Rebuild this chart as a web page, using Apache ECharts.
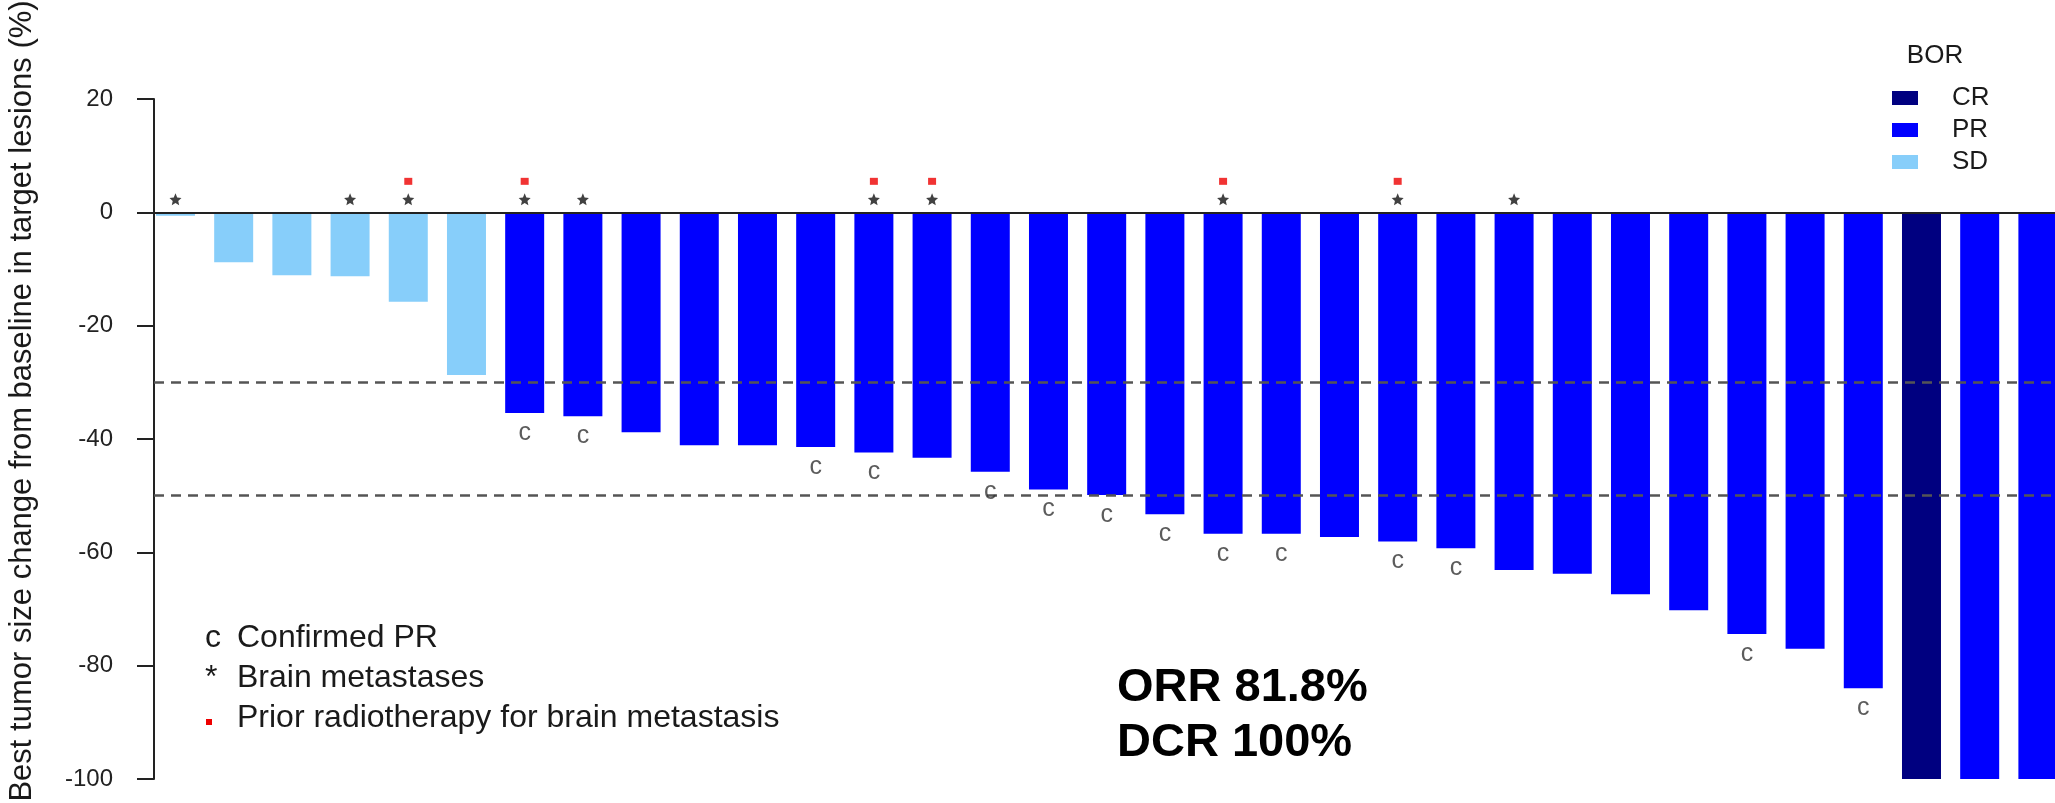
<!DOCTYPE html>
<html>
<head>
<meta charset="utf-8">
<script src="https://cdn.jsdelivr.net/npm/echarts@6/dist/echarts.min.js"></script>
<style>
  html, body { margin: 0; padding: 0; background: #ffffff; }
  #chart { width: 2055px; height: 803px; }
</style>
</head>
<body>
<div id="chart"></div>
<script>
// Best percent change from baseline in target lesions, one value per patient, sorted
const bestChange = [
  -0.6, -8.8, -11.1, -11.3, -15.8, -28.7,
  -35.4, -36.0, -38.8, -41.1, -41.1, -41.4, -42.4, -43.3, -45.8, -48.9,
  -49.9, -53.3, -56.7, -56.7, -57.3, -58.1, -59.3, -63.1, -63.8, -67.4,
  -70.2, -74.4, -77.0, -84.0,
  -100, -100, -100
];
// Best overall response for each patient (same order)
const bestResponse = [
  'SD', 'SD', 'SD', 'SD', 'SD', 'SD',
  'PR', 'PR', 'PR', 'PR', 'PR', 'PR', 'PR', 'PR', 'PR', 'PR',
  'PR', 'PR', 'PR', 'PR', 'PR', 'PR', 'PR', 'PR', 'PR', 'PR',
  'PR', 'PR', 'PR', 'PR',
  'CR', 'PR', 'PR'
];
// Patient positions (1-based) carrying each annotation
const brainMetastases = [1, 4, 5, 7, 8, 13, 14, 19, 22, 24];
const priorRadiotherapy = [5, 7, 13, 14, 19, 22];
const confirmedPR = [7, 8, 12, 13, 15, 16, 17, 18, 19, 20, 22, 23, 28, 30];

const responseLevels = ['CR', 'PR', 'SD'];
const responseColors = { CR: '#000080', PR: '#0000FF', SD: '#87CEFA' };
const thresholds = [-30, -50];
const yMin = -100, yMax = 20, yStep = 20;

const FONT = '"Liberation Sans", Arial, sans-serif';
const INK = '#1a1a1a';

// five-pointed star outline for the brain metastasis marker
function starPath(inner) {
  const pts = [];
  for (let k = 0; k < 10; k++) {
    const r = k % 2 === 0 ? 1 : inner;
    const a = -Math.PI / 2 + k * Math.PI / 5;
    pts.push((r * Math.cos(a)).toFixed(4) + ' ' + (r * Math.sin(a)).toFixed(4));
  }
  return 'path://M' + pts.join(' L') + ' Z';
}

const barSeries = responseLevels.map(level => ({
  name: level,
  type: 'bar',
  barWidth: 39,
  barGap: '-100%',
  itemStyle: { color: responseColors[level] },
  data: bestChange
    .map((v, i) => (bestResponse[i] === level ? [i, v] : null))
    .filter(d => d !== null),
  z: 2
}));

// reference lines: zero baseline and the -30 / -50 thresholds
barSeries[0].markLine = {
  silent: true,
  symbol: 'none',
  label: { show: false },
  z: 5,
  data: [
    { yAxis: 0, lineStyle: { color: '#222222', width: 2, type: 'solid' } }
  ].concat(thresholds.map(t => ({
    yAxis: t,
    lineStyle: { color: '#555555', width: 2.5, type: [10, 7] }
  })))
};

const markerSeries = [
  {
    name: 'brain',
    type: 'scatter',
    symbol: starPath(0.46),
    symbolSize: 12,
    symbolOffset: [0, -13],
    itemStyle: { color: '#111111' },
    data: brainMetastases.map(p => [p - 1, 0]),
    z: 6
  },
  {
    name: 'radiotherapy',
    type: 'scatter',
    symbol: 'rect',
    symbolSize: [8, 7],
    symbolOffset: [0, -31],
    itemStyle: { color: '#ee0000' },
    data: priorRadiotherapy.map(p => [p - 1, 0]),
    z: 6
  },
  {
    name: 'confirmed',
    type: 'scatter',
    symbolSize: 1,
    itemStyle: { color: 'rgba(0,0,0,0)' },
    label: {
      show: true,
      position: 'inside',
      offset: [0, 20],
      formatter: 'c',
      color: '#333333',
      fontFamily: FONT,
      fontSize: 25
    },
    data: confirmedPR.map(p => [p - 1, bestChange[p - 1]]),
    z: 6
  }
];

const chart = echarts.init(document.getElementById('chart'), null, { renderer: 'canvas' });

chart.setOption({
  animation: false,
  backgroundColor: '#ffffff',
  textStyle: { fontFamily: FONT },
  grid: { left: 154, right: 0, top: 99, bottom: 24, outerBoundsMode: 'none', containLabel: false },
  xAxis: {
    type: 'value',
    min: -0.369,
    max: 32.294,
    show: false
  },
  yAxis: {
    type: 'value',
    min: yMin,
    max: yMax,
    interval: yStep,
    axisLine: { show: true, onZero: false, lineStyle: { color: '#222222', width: 2 } },
    axisTick: { show: true, length: 17, lineStyle: { color: '#222222', width: 2 } },
    axisLabel: { color: '#222222', fontSize: 24, fontFamily: FONT, margin: 41 },
    splitLine: { show: false }
  },
  legend: {
    orient: 'vertical',
    left: 1887,
    top: 80,
    icon: 'rect',
    itemWidth: 26,
    itemHeight: 14,
    itemGap: 6,
    selectedMode: false,
    data: responseLevels,
    textStyle: { color: INK, fontSize: 26, fontFamily: FONT, padding: [0, 0, 0, 29] }
  },
  graphic: [
    {
      type: 'text', x: 22, y: 401, rotation: Math.PI / 2,
      style: {
        text: 'Best tumor size change from baseline in target lesions (%)',
        fontFamily: FONT, fontSize: 31, fill: INK, align: 'center', verticalAlign: 'middle'
      }
    },
    {
      type: 'text', x: 1935, y: 56,
      style: { text: 'BOR', fontFamily: FONT, fontSize: 26, fill: INK, align: 'center', verticalAlign: 'middle' }
    },
    {
      type: 'text', x: 205, y: 638,
      style: { text: 'c', fontFamily: FONT, fontSize: 32, fill: INK, align: 'left', verticalAlign: 'middle' }
    },
    {
      type: 'text', x: 237, y: 638,
      style: { text: 'Confirmed PR', fontFamily: FONT, fontSize: 32, fill: INK, align: 'left', verticalAlign: 'middle' }
    },
    {
      type: 'text', x: 205, y: 678,
      style: { text: '*', fontFamily: FONT, fontSize: 32, fill: INK, align: 'left', verticalAlign: 'middle' }
    },
    {
      type: 'text', x: 237, y: 678,
      style: { text: 'Brain metastases', fontFamily: FONT, fontSize: 32, fill: INK, align: 'left', verticalAlign: 'middle' }
    },
    {
      type: 'rect', shape: { x: 206, y: 719, width: 6, height: 6 },
      style: { fill: '#ee0000' }
    },
    {
      type: 'text', x: 237, y: 718,
      style: { text: 'Prior radiotherapy for brain metastasis', fontFamily: FONT, fontSize: 32, fill: INK, align: 'left', verticalAlign: 'middle' }
    },
    {
      type: 'text', x: 1117, y: 688,
      style: { text: 'ORR 81.8%', fontFamily: FONT, fontSize: 47, fontWeight: 'bold', fill: '#000000', align: 'left', verticalAlign: 'middle' }
    },
    {
      type: 'text', x: 1117, y: 743,
      style: { text: 'DCR 100%', fontFamily: FONT, fontSize: 47, fontWeight: 'bold', fill: '#000000', align: 'left', verticalAlign: 'middle' }
    }
  ],
  series: barSeries.concat(markerSeries)
});
</script>
</body>
</html>
